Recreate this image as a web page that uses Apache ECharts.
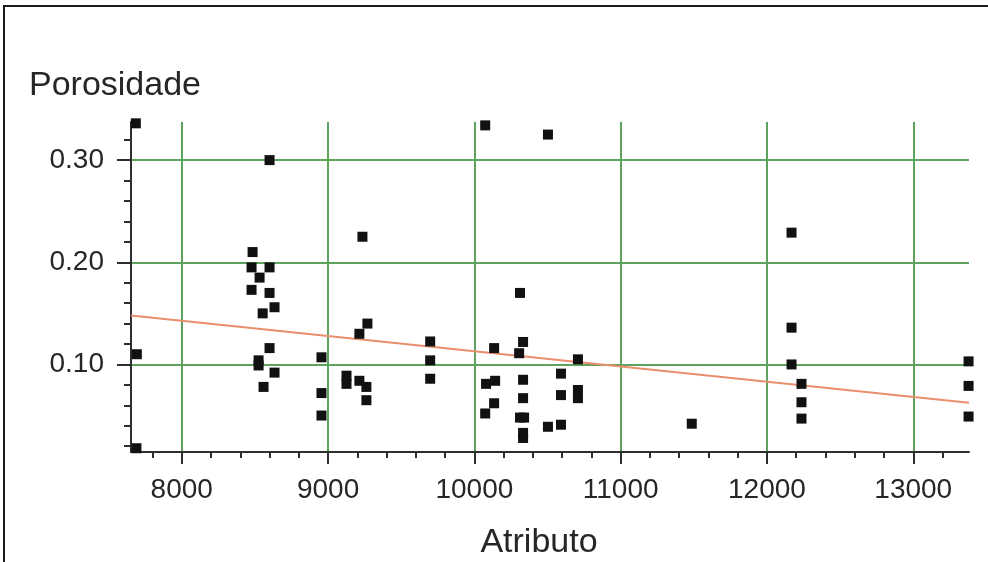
<!DOCTYPE html>
<html>
<head>
<meta charset="utf-8">
<script src="https://cdn.jsdelivr.net/npm/echarts@6/dist/echarts.min.js"></script>
<style>
  html, body { margin: 0; padding: 0; background: #ffffff; }
  #chart { width: 988px; height: 562px; }
</style>
</head>
<body>
<div id="chart"></div>
<script>
// Attribute value vs porosity for each sample
const attributo = [
  7693, 7690, 7686,
  8484, 8477, 8600, 8532, 8477, 8600, 8634, 8553, 8600, 8600, 8525, 8525, 8634, 8559,
  8955, 8955, 8955, 9126, 9126, 9214, 9235, 9269, 9214, 9262, 9262,
  9698, 9698, 9698,
  10074, 10503, 10135, 10080, 10142, 10135, 10074,
  10312, 10333, 10306, 10333, 10333, 10312, 10340, 10333, 10333,
  10592, 10592, 10592, 10503, 10708, 10708, 10708,
  11486,
  12168, 12168, 12168, 12236, 12236, 12236,
  13378, 13378, 13378
];
const porosidade = [
  0.110, 0.018, 0.336,
  0.210, 0.195, 0.195, 0.185, 0.173, 0.170, 0.156, 0.150, 0.300, 0.116, 0.104, 0.099, 0.092, 0.078,
  0.107, 0.072, 0.050, 0.089, 0.081, 0.130, 0.225, 0.140, 0.084, 0.078, 0.065,
  0.1225, 0.104, 0.086,
  0.334, 0.325, 0.116, 0.081, 0.084, 0.062, 0.052,
  0.170, 0.122, 0.111, 0.085, 0.067, 0.048, 0.048, 0.033, 0.028,
  0.091, 0.070, 0.041, 0.039, 0.105, 0.075, 0.067,
  0.042,
  0.229, 0.136, 0.100, 0.081, 0.063, 0.047,
  0.103, 0.079, 0.049
];

// Linear fit endpoints
const trendX = [7653, 13381];
const trendY = [0.148, 0.0625];

// Axis ranges and ticks
const xRange = [7653, 13381];
const yRange = [0.0143, 0.3373];
const xMajor = [8000, 9000, 10000, 11000, 12000, 13000];
const xMinor = [7800, 8200, 8400, 8600, 8800, 9200, 9400, 9600, 9800, 10200, 10400, 10600, 10800,
                11200, 11400, 11600, 11800, 12200, 12400, 12600, 12800, 13200];
const yMajor = [0.10, 0.20, 0.30];
const yMinor = [0.02, 0.04, 0.06, 0.08, 0.12, 0.14, 0.16, 0.18, 0.22, 0.24, 0.26, 0.28, 0.32];

const FONT = '"Liberation Sans", Arial, Helvetica, sans-serif';
const AXIS_COLOR = '#2e2e2e';
const GRID_COLOR = '#5da35d';
const TEXT_COLOR = '#262626';

const points = attributo.map((x, i) => [x, porosidade[i]]);
const trend = trendX.map((x, i) => [x, trendY[i]]);

const chart = echarts.init(document.getElementById('chart'), null, { renderer: 'canvas' });

chart.setOption({
  backgroundColor: '#ffffff',
  animation: false,
  grid: { left: 131, right: 19, top: 122, bottom: 110, containLabel: false },
  xAxis: [
    {
      type: 'value',
      min: xRange[0], max: xRange[1],
      position: 'bottom',
      axisLine: { show: true, lineStyle: { color: AXIS_COLOR, width: 2 } },
      axisTick: { show: true, customValues: xMajor, length: 12, lineStyle: { color: AXIS_COLOR, width: 2 } },
      axisLabel: {
        customValues: xMajor, margin: 24,
        fontFamily: FONT, fontSize: 28, color: TEXT_COLOR,
        formatter: v => String(v)
      },
      splitLine: { show: true, lineStyle: { color: GRID_COLOR, width: 2 } }
    },
    {
      type: 'value',
      min: xRange[0], max: xRange[1],
      position: 'bottom',
      axisLine: { show: false },
      axisTick: { show: true, customValues: xMinor, length: 6, lineStyle: { color: AXIS_COLOR, width: 2 } },
      axisLabel: { show: false },
      splitLine: { show: false }
    }
  ],
  yAxis: [
    {
      type: 'value',
      min: yRange[0], max: yRange[1],
      position: 'left',
      axisLine: { show: true, lineStyle: { color: AXIS_COLOR, width: 2 } },
      axisTick: { show: true, customValues: yMajor, length: 14, lineStyle: { color: AXIS_COLOR, width: 2 } },
      axisLabel: {
        customValues: yMajor, margin: 27,
        fontFamily: FONT, fontSize: 28, color: TEXT_COLOR,
        formatter: v => v.toFixed(2)
      },
      splitLine: { show: true, lineStyle: { color: GRID_COLOR, width: 2 } }
    },
    {
      type: 'value',
      min: yRange[0], max: yRange[1],
      position: 'left',
      axisLine: { show: false },
      axisTick: { show: true, customValues: yMinor, length: 7, lineStyle: { color: AXIS_COLOR, width: 2 } },
      axisLabel: { show: false },
      splitLine: { show: false }
    }
  ],
  graphic: [
    {
      type: 'text', left: 29, top: 69, silent: true,
      style: { text: 'Porosidade', fontFamily: FONT, fontSize: 34, fill: TEXT_COLOR }
    },
    {
      type: 'text', x: 539, y: 543, silent: true,
      style: { text: 'Atributo', fontFamily: FONT, fontSize: 34, fill: TEXT_COLOR,
               align: 'center', verticalAlign: 'middle' }
    },
    {
      type: 'line', silent: true,
      shape: { x1: 3, y1: 6, x2: 988, y2: 6 },
      style: { stroke: '#1a1a1a', lineWidth: 2 }
    },
    {
      type: 'line', silent: true,
      shape: { x1: 4, y1: 6, x2: 4, y2: 562 },
      style: { stroke: '#1a1a1a', lineWidth: 2 }
    }
  ],
  series: [
    {
      type: 'line',
      data: trend,
      xAxisIndex: 0, yAxisIndex: 0,
      showSymbol: false,
      symbol: 'none',
      lineStyle: { color: '#ea8f6c', width: 2 },
      z: 3
    },
    {
      type: 'scatter',
      data: points,
      xAxisIndex: 0, yAxisIndex: 0,
      symbol: 'rect',
      symbolSize: 10,
      itemStyle: { color: '#111111', opacity: 1 },
      clip: false,
      z: 4
    }
  ]
});
</script>
</body>
</html>
